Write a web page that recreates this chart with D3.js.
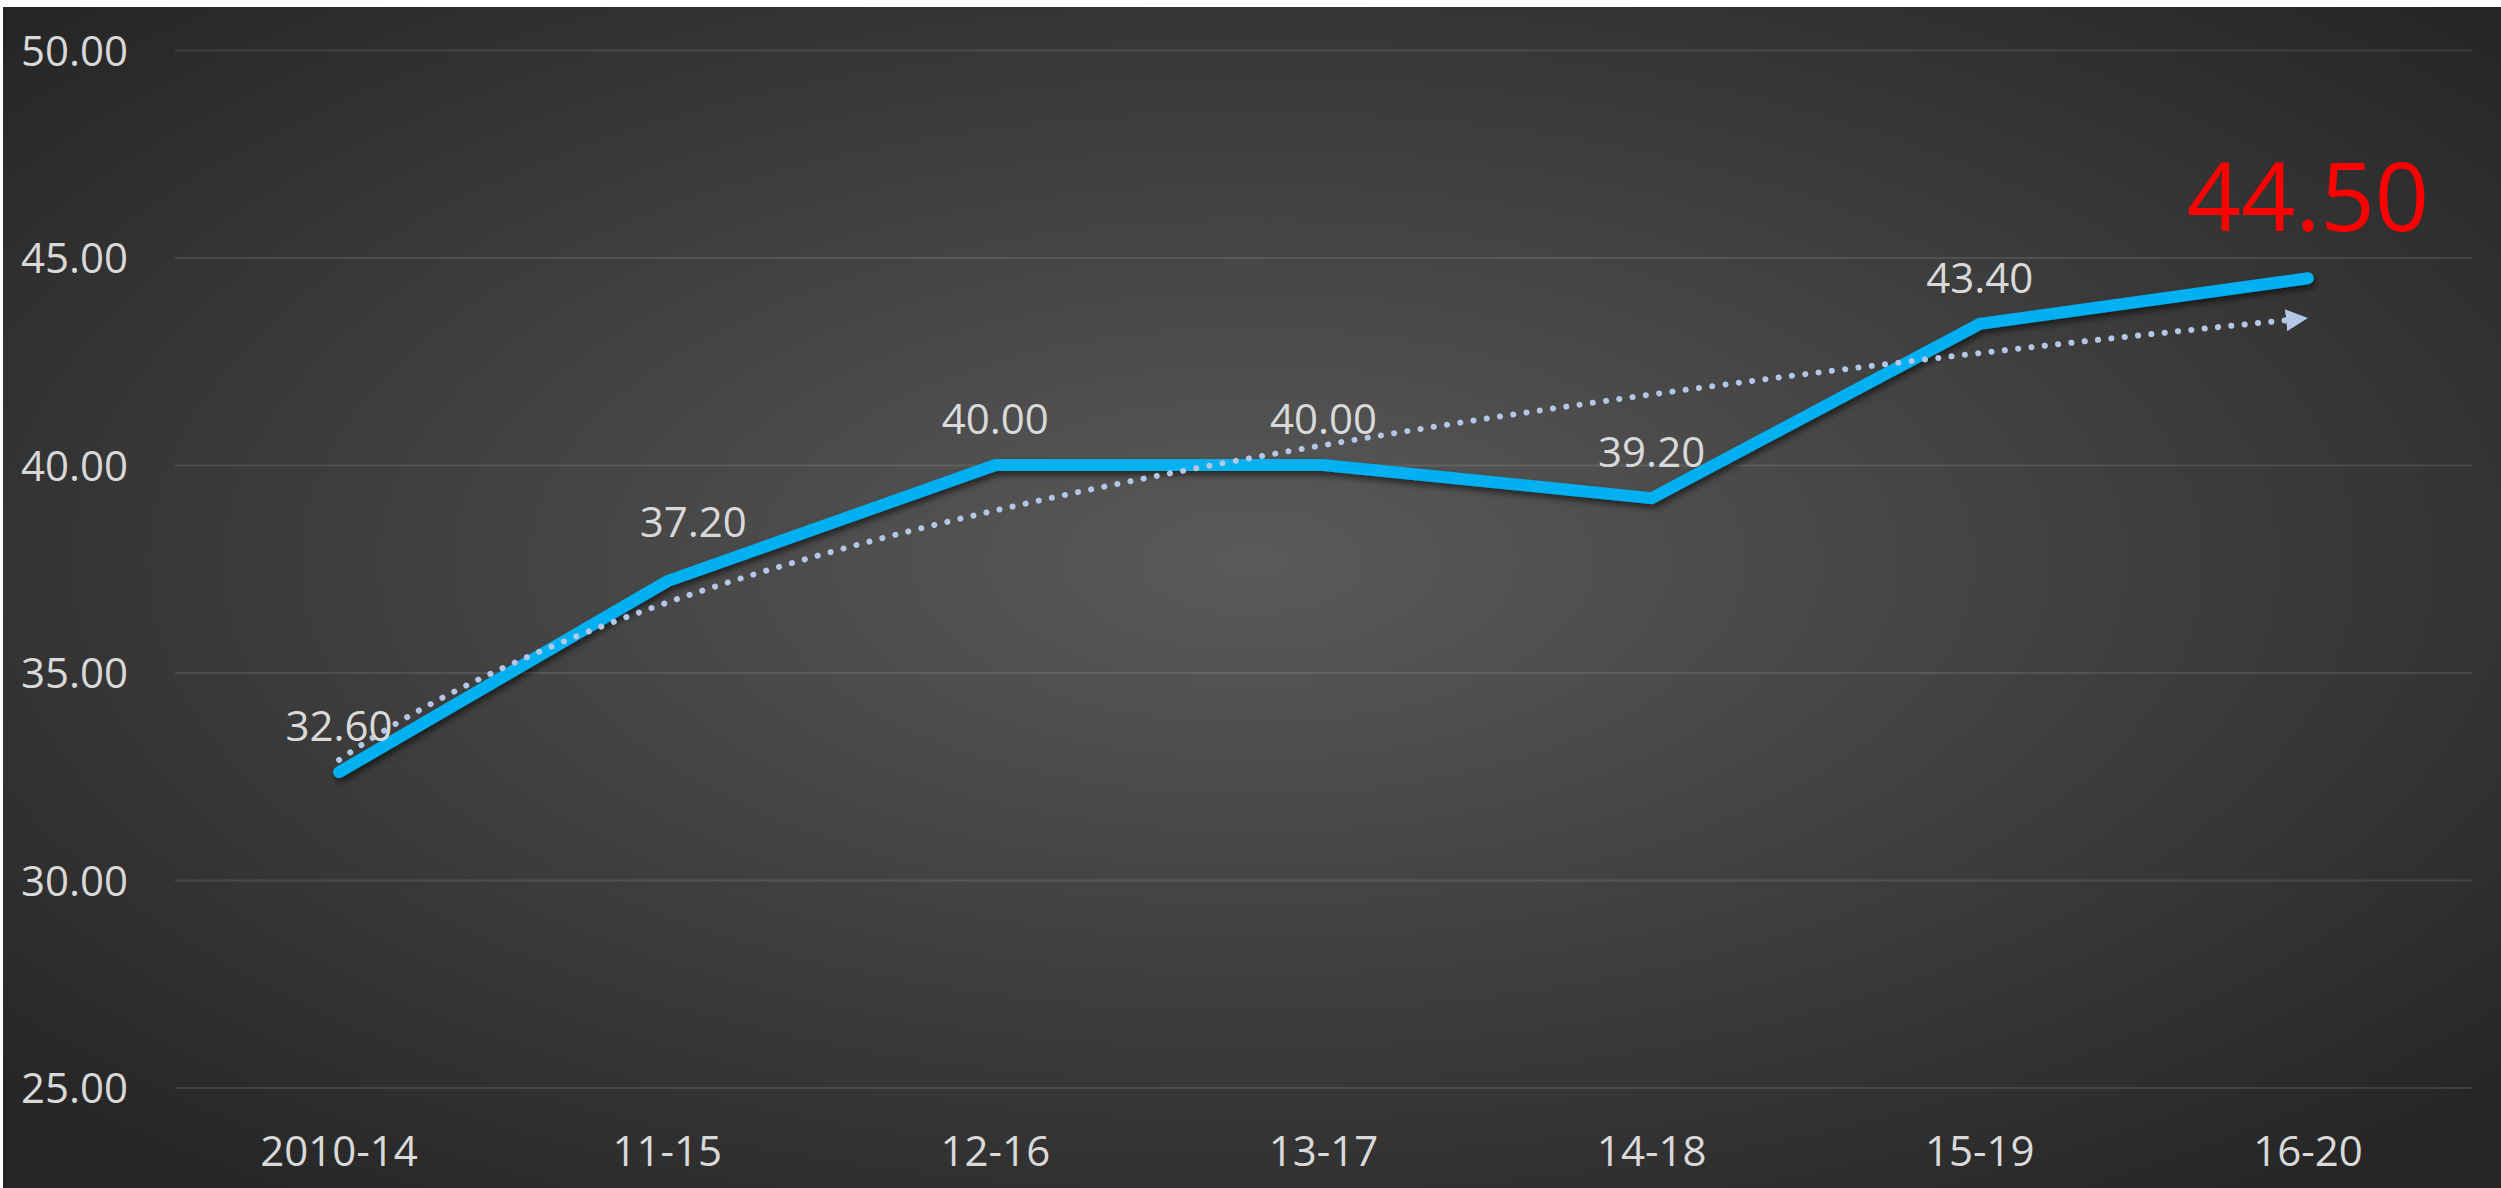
<!DOCTYPE html>
<html>
<head>
<meta charset="utf-8">
<script src="https://cdn.jsdelivr.net/npm/d3@7"></script>
<style>
  html, body { margin: 0; padding: 0; background: #ffffff; }
  svg { display: block; }
</style>
</head>
<body>
<svg id="chart" width="2501" height="1188"></svg>
<script>
// ---- data ----
const categories = ["2010-14", "11-15", "12-16", "13-17", "14-18", "15-19", "16-20"];
const values = [32.60, 37.20, 40.00, 40.00, 39.20, 43.40, 44.50];
const yTicks = [25, 30, 35, 40, 45, 50];

// ---- layout / style ----
const W = 2501, H = 1188;
const plot = { left: 175, right: 2472, top: 50, bottom: 1087.5 };
const fontFamily = "'Open Sans', 'Noto Sans', sans-serif";
const textColor = "#d9d9d9";
const labelNudge = [[0, 0], [26, -13], [0, 0], [0, 0], [0, 0], [0, 0], [0, 0]];

const svg = d3.select("#chart");
const defs = svg.append("defs");

const grad = defs.append("radialGradient")
  .attr("id", "bg").attr("cx", 0.5).attr("cy", 0.47).attr("r", 0.67)
  .attr("fx", 0.5).attr("fy", 0.47);
grad.append("stop").attr("offset", 0).attr("stop-color", "#5a5a5a");
grad.append("stop").attr("offset", 1).attr("stop-color", "#262626");

const shadow = defs.append("filter").attr("id", "shadow")
  .attr("x", "-10%").attr("y", "-10%").attr("width", "120%").attr("height", "130%");
shadow.append("feDropShadow").attr("dx", 2).attr("dy", 4).attr("stdDeviation", 3)
  .attr("flood-color", "#000").attr("flood-opacity", 0.55);

defs.append("marker").attr("id", "arrow")
  .attr("markerUnits", "userSpaceOnUse")
  .attr("markerWidth", 22).attr("markerHeight", 22)
  .attr("viewBox", "0 0 20 20").attr("refX", 20).attr("refY", 10)
  .attr("orient", "auto")
  .append("path").attr("d", "M0,0 L20,10 L0,20 Z").attr("fill", "#b4c7e7");

// background
svg.append("rect").attr("x", 3).attr("y", 7).attr("width", W - 3).attr("height", H - 7)
  .attr("fill", "url(#bg)");

// scales
const x = d3.scaleBand().domain(categories).range([plot.left, plot.right]).padding(0);
const cx = c => x(c) + x.bandwidth() / 2;
const y = d3.scaleLinear().domain([25, 50]).range([plot.bottom, plot.top]);

// gridlines + y labels
const yAxis = svg.append("g").attr("transform", `translate(${plot.left},0)`)
  .call(d3.axisLeft(y).tickValues(yTicks).tickSize(-(plot.right - plot.left))
    .tickPadding(47).tickFormat(d3.format(".2f")));
yAxis.select(".domain").remove();
yAxis.selectAll(".tick line").attr("stroke", "#ffffff").attr("stroke-opacity", 0.1)
  .attr("stroke-width", 2);
yAxis.selectAll(".tick text").attr("fill", textColor)
  .style("font-family", fontFamily).style("font-size", "42px")
  .attr("dy", "0.357em");

// x labels
const xAxis = svg.append("g").attr("transform", `translate(0,${plot.bottom})`)
  .call(d3.axisBottom(x).tickSize(0).tickPadding(0));
xAxis.select(".domain").remove();
xAxis.selectAll(".tick text").attr("fill", textColor)
  .style("font-family", fontFamily).style("font-size", "42px")
  .attr("y", 0).attr("dy", 78);

// data line
const line = d3.line().x((d, i) => cx(categories[i])).y(d => y(d));
svg.append("path").datum(values)
  .attr("d", line)
  .attr("fill", "none").attr("stroke", "#00b0f0").attr("stroke-width", 12)
  .attr("stroke-linecap", "round").attr("stroke-linejoin", "miter")
  .attr("filter", "url(#shadow)");

// logarithmic trend line (least squares on ln(i+1)), computed from values
const L = values.map((v, i) => Math.log(i + 1));
const mL = d3.mean(L), mV = d3.mean(values);
const b = d3.sum(L.map((l, i) => (l - mL) * (values[i] - mV))) / d3.sum(L.map(l => (l - mL) ** 2));
const a = mV - b * mL;
const step = x.step();
const nT = 120;
const trendPts = d3.range(nT + 1).map(k => {
  const t = 6 * k / nT;
  return [cx(categories[0]) + t * step, y(a + b * Math.log(t + 1))];
});
svg.append("path").datum(trendPts)
  .attr("d", d3.line())
  .attr("fill", "none").attr("stroke", "#b4c7e7").attr("stroke-width", 6)
  .attr("stroke-linecap", "round").attr("stroke-dasharray", "0.1 13.3")
  .attr("marker-end", "url(#arrow)");

// data labels
svg.append("g").selectAll("text").data(values).join("text")
  .attr("x", (d, i) => cx(categories[i]) + labelNudge[i][0])
  .attr("y", (d, i) => y(d) + labelNudge[i][1] - (i === values.length - 1 ? 47 : 31))
  .attr("text-anchor", "middle")
  .attr("fill", (d, i) => i === values.length - 1 ? "#ff0000" : textColor)
  .style("font-family", fontFamily)
  .style("font-size", (d, i) => i === values.length - 1 ? "95px" : "42px")
  .text(d => d.toFixed(2));
</script>
</body>
</html>
